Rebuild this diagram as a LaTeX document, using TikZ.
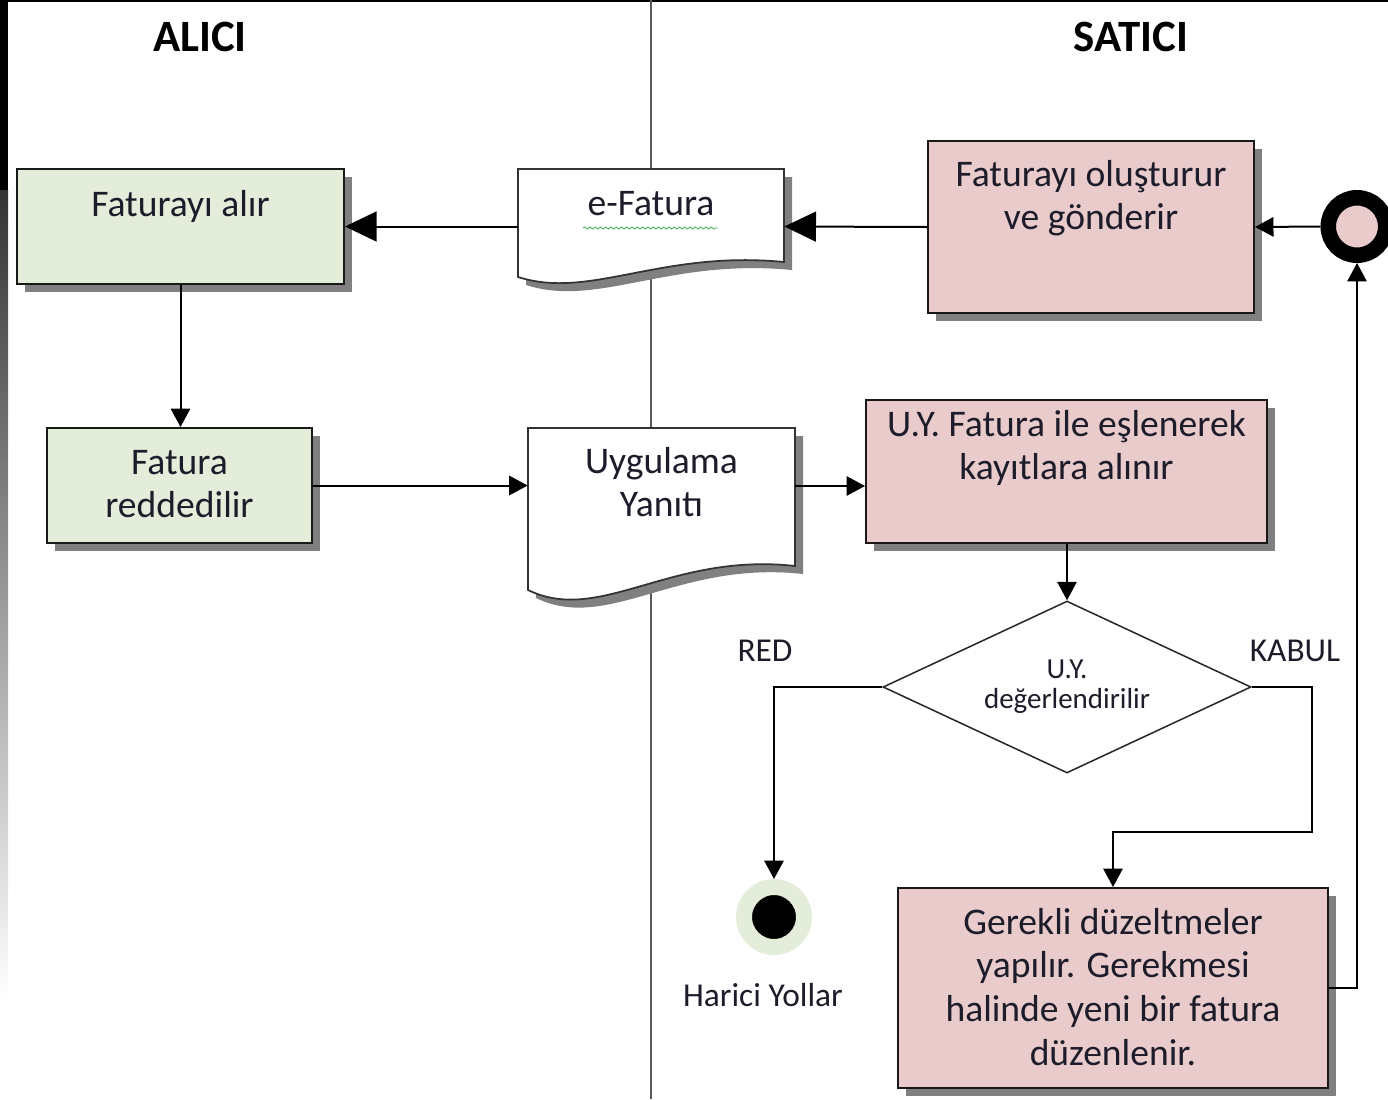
\documentclass[tikz,border=0pt]{standalone}
\usepackage{fontspec}
\setmainfont{Carlito}
\usetikzlibrary{arrows.meta,shapes.geometric,shadows,decorations.pathmorphing}
\newlength\pxu \setlength\pxu{0.02cm}
\def\boxtext#1#2#3#4{\parbox[c][#2\pxu][t]{#1\pxu}{\centering\rule{0pt}{#3\pxu}#4}}
\definecolor{aligreen}{HTML}{E4ECDA}
\definecolor{satpink}{HTML}{E9CBCC}
\definecolor{inkblue}{HTML}{1C1C2A}
\definecolor{spellgreen}{HTML}{4FB45A}
\tikzset{
	boxshadow/.style={general shadow={fill=black!50, shadow xshift=8\pxu, shadow yshift=-8\pxu}},
	procbox/.style={draw=black!90, line width=0.4mm, inner sep=0pt, text=inkblue, font=\fontsize{21.4}{25}\selectfont, boxshadow},
	docline/.style={draw=black!80, line width=0.35mm, fill=white, boxshadow},
	doctext/.style={inner sep=0pt, text=inkblue, font=\fontsize{21.4}{25}\selectfont},
	decision/.style={diamond, aspect=2.14, draw=black!85, line width=0.3mm, fill=white, inner sep=0pt, minimum width=368\pxu, minimum height=172\pxu, align=center, text=inkblue, font=\fontsize{16.5}{17}\selectfont},
	title/.style={text=black, font=\fontsize{25.5}{30}\selectfont\bfseries},
	lbl/.style={text=inkblue, font=\fontsize{19}{22}\selectfont},
	lane/.style={draw=black!65, line width=0.5mm},
	flow/.style={draw=black, line width=0.4mm, -{Triangle[length=10.5pt,width=11pt]}},
	bigflow/.style={draw=black, line width=0.4mm, -{Triangle[length=18pt,width=17pt]}},
	spellwave/.style={draw=spellgreen, line width=0.5pt, decorate, decoration={snake, amplitude=0.6pt, segment length=3pt}}
}

\begin{document}
\begin{tikzpicture}[x=0.02cm, y=-0.02cm]
		%%%%% START %%%%%
		\useasboundingbox (0,0) rectangle (1388,1099);
		
		\fill[black] (0,0) rectangle (1388,2);
		\fill[black] (0,0) rectangle (8,190);
		\shade[top color=black!80, bottom color=white] (0,190) rectangle (8,1000);
		
		\draw[lane] (651,0) -- (651,1099);
		
		\node[title] (alici) at (200,37) {ALICI};
		\node[title] (satici) at (1131,37) {SATICI};
		
		% alici side
		\node[procbox, fill=aligreen] (alir) at (180.5,226.5) {\boxtext{327}{115}{47}{Faturayı alır}};
		\node[procbox, fill=aligreen] (reddet) at (179.5,485.5) {\boxtext{265}{115}{46}{Fatura\\reddedilir}};
		
		% documents
		\draw[docline] (518,169) -- (784,169) -- (784,262) .. controls (660,250) and (590,300) .. (518,277) -- cycle;
		\node[doctext] (efat) at (651,226.5) {\boxtext{266}{115}{46}{e-Fatura}};
		\draw[spellwave] (583,228) -- (718,228);
		
		\draw[docline] (528,428) -- (795,428) -- (795,566) .. controls (670,552) and (600,625) .. (528,590) -- cycle;
		\node[doctext] (yanit) at (661.5,486) {\boxtext{267}{116}{45}{Uygulama\\Yanıtı}};
		
		% satici side
		\node[procbox, fill=satpink] (olustur) at (1091,227) {\boxtext{326}{172}{45}{Faturayı oluşturur\\ve gönderir}};
		\node[procbox, fill=satpink] (esle) at (1066.5,471.5) {\boxtext{401}{143}{36}{U.Y. Fatura ile eşlenerek\\kayıtlara alınır}};
		\node[decision] (uydeg) at (1067,687) {U.Y.\\değerlendirilir};
		\node[procbox, fill=satpink] (duzelt) at (1113,988) {\boxtext{430}{200}{46}{Gerekli düzeltmeler\\yapılır. Gerekmesi\\halinde yeni bir fatura\\düzenlenir.}};
		
		\node[circle, draw=black, line width=15.5\pxu, fill=satpink, minimum size=57.5\pxu, inner sep=0pt] (start) at (1357,226.5) {};
		\node[circle, draw=aligreen, line width=16\pxu, fill=black, minimum size=60\pxu, inner sep=0pt] (stop) at (774,917) {};
		\node[lbl] (harici) at (763,995) {Harici Yollar};
		
		\node[lbl] (lblred) at (765,651) {RED};
		\node[lbl] (lblkabul) at (1295,651) {KABUL};
		
		% connectors
		\draw[flow] (start.west) -- (olustur.east);
		\draw[bigflow] (olustur.west) -- (efat.east);
		\draw[bigflow] (efat.west) -- (alir.east);
		\draw[flow] (alir.south) -- (alir.south |- reddet.north);
		\draw[flow] (reddet.east) -- (reddet.east -| yanit.west);
		\draw[flow] (yanit.east) -- (yanit.east -| esle.west);
		\draw[flow] (esle.south -| uydeg.north) -- (uydeg.north);
		\draw[flow] (uydeg.west) -| (stop.north);
		\coordinate (kabulbend) at (1312,832);
		\draw[flow] (uydeg.east) -| (kabulbend) -| (duzelt.north);
		\draw[flow] (duzelt.east) -| (start.south);
		
		%%%%% END %%%%%
\end{tikzpicture}
\end{document}
